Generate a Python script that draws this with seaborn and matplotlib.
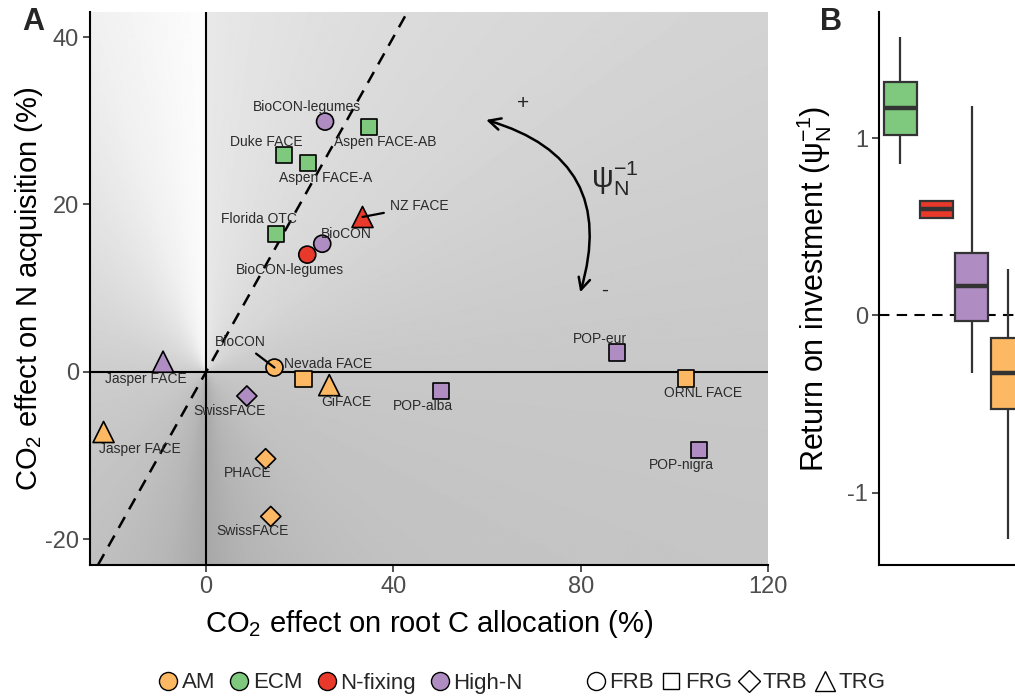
import numpy as np
import pandas as pd
import matplotlib
matplotlib.use("Agg")
import matplotlib.pyplot as plt
import seaborn as sns
from matplotlib.lines import Line2D

# ---------------- data ----------------
sites = ["BioCON-legumes", "Aspen FACE-AB", "Duke FACE", "Aspen FACE-A", "NZ FACE",
         "Florida OTC", "BioCON", "BioCON-legumes", "Jasper FACE", "BioCON",
         "Nevada FACE", "GiFACE", "POP-alba", "SwissFACE", "Jasper FACE",
         "PHACE", "SwissFACE", "POP-eur", "ORNL FACE", "POP-nigra"]
myco = ["High-N", "ECM", "ECM", "ECM", "N-fixing",
        "ECM", "High-N", "N-fixing", "High-N", "AM",
        "AM", "AM", "High-N", "High-N", "AM",
        "AM", "AM", "High-N", "AM", "High-N"]
ptype = ["FRB", "FRG", "FRG", "FRG", "TRG",
         "FRG", "FRB", "FRB", "TRG", "FRB",
         "FRG", "TRG", "FRG", "TRB", "TRG",
         "TRB", "TRB", "FRG", "FRG", "FRG"]
root_c = [25.4, 34.7, 16.6, 21.8, 33.4,
          15.0, 24.8, 21.6, -9.2, 14.6,
          20.8, 26.3, 50.1, 8.7, -21.9,
          12.7, 13.8, 87.8, 102.5, 105.3]
n_acq = [29.9, 29.3, 25.9, 24.9, 18.5,
         16.5, 15.3, 14.0, 1.2, 0.5,
         -0.9, -1.6, -2.3, -2.9, -7.2,
         -10.4, -17.3, 2.3, -0.8, -9.4]

# label anchor positions (data units)
label_x = [21.5, 38.2, 12.8, 25.5, 45.5,
           11.3, 29.9, 17.9, -12.8, 7.3,
           26.1, 30.0, 46.3, 4.9, -14.2,
           8.9, 10.0, 84.1, 106.2, 101.6]
label_y = [31.6, 27.5, 27.5, 23.1, 19.8,
           18.2, 16.5, 12.2, -0.9, 3.6,
           0.9, -3.6, -4.1, -4.7, -9.2,
           -12.1, -19.0, 3.9, -2.5, -11.2]
leader = [False, False, False, False, True,
          False, False, False, False, True,
          False, False, False, False, False,
          False, False, False, False, False]

# panel B: five-number summaries (min, q1, median, q3, max)
roi_groups = ["ECM", "N-fixing", "High-N", "AM"]
roi_ecm = [0.852, 1.016, 1.169, 1.317, 1.569]
roi_nfix = [0.547, 0.547, 0.597, 0.647, 0.647]
roi_highn = [-0.327, -0.034, 0.165, 0.354, 1.181]
roi_am = [-1.263, -0.530, -0.325, -0.126, 0.260]

myco_order = ["AM", "ECM", "N-fixing", "High-N"]
type_order = ["FRB", "FRG", "TRB", "TRG"]

# ---------------- style ----------------
palette = {"AM": "#FDB863", "ECM": "#7FC97F", "N-fixing": "#E8392B", "High-N": "#AF8DC3"}
markers = {"FRB": "o", "FRG": "s", "TRB": "D", "TRG": "^"}
msizes = {"FRB": 150, "FRG": 135, "TRB": 105, "TRG": 230}

sns.set_theme(style="white")
plt.rcParams["font.family"] = ["Liberation Sans", "DejaVu Sans"]
plt.rcParams["axes.unicode_minus"] = False
plt.rcParams["mathtext.fontset"] = "custom"
plt.rcParams["mathtext.rm"] = "Liberation Sans"
plt.rcParams["mathtext.it"] = "Liberation Sans:italic"
plt.rcParams["mathtext.bf"] = "Liberation Sans:bold"

W, H = 1015, 698
fig = plt.figure(figsize=(W / 100, H / 100), dpi=100)

def px_axes(l, t, r, b):
    return [l / W, 1 - b / H, (r - l) / W, (b - t) / H]

axA = fig.add_axes(px_axes(90, 12, 768, 565))
xlim = (-24.8, 120)
ylim = (-23.1, 43.0)

# angular grey background
gx = np.linspace(xlim[0], xlim[1], 700)
gy = np.linspace(ylim[0], ylim[1], 600)
GX, GY = np.meshgrid(gx, gy)
theta = np.degrees(np.arctan2(GY, GX))
phi = (theta - 90) % 360
stops_phi = [0, 30, 90, 133, 160, 180, 200, 240, 270, 296, 340, 360]
stops_gray = [253, 240, 205, 192, 182, 168, 180, 193, 200, 214, 226, 232]
gray = np.interp(phi, stops_phi, stops_gray) / 255.0
axA.imshow(gray, cmap="gray", vmin=0, vmax=1, extent=[xlim[0], xlim[1], ylim[0], ylim[1]],
           origin="lower", aspect="auto", interpolation="bilinear", zorder=0)

axA.axhline(0, color="black", lw=1.5, zorder=1)
axA.axvline(0, color="black", lw=1.5, zorder=1)
axA.axline((0, 0), slope=1, color="black", lw=1.8, ls=(0, (5, 3.5)), zorder=1)

df = pd.DataFrame({"site": sites, "myco": myco, "type": ptype, "x": root_c, "y": n_acq})
sns.scatterplot(data=df, x="x", y="y", hue="myco", style="type", size="type",
                palette=palette, markers=markers, sizes=msizes,
                hue_order=myco_order, style_order=type_order, size_order=type_order,
                edgecolor="black", linewidth=1.2, legend=False, ax=axA, zorder=3)

for i, s in enumerate(sites):
    if leader[i]:
        axA.annotate(s, xy=(root_c[i], n_acq[i]), xytext=(label_x[i], label_y[i]),
                     ha="center", va="center", fontsize=10, color="#2b2b2b", zorder=4,
                     arrowprops=dict(arrowstyle="-", color="black", lw=1.6, shrinkA=2, shrinkB=0))
    else:
        axA.text(label_x[i], label_y[i], s, ha="center", va="center", fontsize=10,
                 color="#2b2b2b", zorder=4)

# curved double arrow
axA.annotate("", xy=(79.9, 9.5), xytext=(59.8, 30.1),
             arrowprops=dict(arrowstyle="<->,head_length=0.7,head_width=0.35", color="black",
                             lw=1.8, connectionstyle="arc3,rad=-0.5", shrinkA=0, shrinkB=0))
axA.text(67.7, 32.1, "+", fontsize=15, ha="center", va="center")
axA.text(85.2, 9.7, "-", fontsize=15, ha="center", va="center")
axA.text(87.3, 23.1, r"$\mathrm{ψ}_\mathrm{N}^{-1}$", fontsize=22, ha="center", va="center")

axA.set_xlim(*xlim)
axA.set_ylim(*ylim)
axA.set_xticks([0, 40, 80, 120])
axA.set_yticks([-20, 0, 20, 40])
axA.tick_params(axis="both", labelsize=17, labelcolor="#4D4D4D", colors="#333333",
                length=5, width=1.2, direction="out", left=True, bottom=True, pad=3)
for side in ["top", "right"]:
    axA.spines[side].set_visible(False)
for side in ["left", "bottom"]:
    axA.spines[side].set_color("black")
    axA.spines[side].set_linewidth(1.5)
axA.set_xlabel(r"CO$_2$ effect on root C allocation (%)", fontsize=21, color="black")
axA.set_ylabel(r"CO$_2$ effect on N acquisition (%)", fontsize=21, color="black")
axA.xaxis.set_label_coords(0.5, -0.078)
axA.yaxis.set_label_coords(-0.066, 0.5)
fig.text(33 / W, 1 - 22 / H, "A", fontsize=22, fontweight="bold", ha="center", va="center")

# ---------------- panel B ----------------
axB = fig.add_axes(px_axes(879, 12, 1029, 565))
bdf = pd.DataFrame({
    "group": np.repeat(roi_groups, 5),
    "roi": np.concatenate([roi_ecm, roi_nfix, roi_highn, roi_am]),
})
sns.boxplot(data=bdf, x="group", y="roi", hue="group", order=roi_groups, hue_order=roi_groups,
            palette=palette, saturation=1, width=0.92, whis=(0, 100), showcaps=False, fliersize=0,
            linewidth=1.6, linecolor="#333333", medianprops=dict(linewidth=3.2, color="#333333"),
            legend=False, ax=axB, zorder=2)
axB.axhline(0, color="black", lw=1.5, ls=(0, (5, 3.5)), zorder=1)
axB.set_xlim(-0.6, 3.6)
axB.set_ylim(-1.409, 1.711)
axB.set_yticks([-1, 0, 1])
axB.set_xticks([])
axB.set_xlabel("")
axB.tick_params(axis="y", labelsize=17, labelcolor="#4D4D4D", colors="#333333",
                length=5, width=1.2, direction="out", left=True, pad=3)
for side in ["top", "right"]:
    axB.spines[side].set_visible(False)
for side in ["left", "bottom"]:
    axB.spines[side].set_color("black")
    axB.spines[side].set_linewidth(1.5)
axB.set_facecolor("white")
axB.set_ylabel(r"Return on investment ($\mathrm{ψ}_\mathrm{N}^{-1}$)", fontsize=22, color="black")
axB.yaxis.set_label_coords(-0.30, 0.5)
fig.text(831 / W, 1 - 22 / H, "B", fontsize=22, fontweight="bold", ha="center", va="center")

# ---------------- legends ----------------
narrow = ["Liberation Sans Narrow", "Liberation Sans", "DejaVu Sans"]
h1 = [Line2D([], [], ls="", marker="o", markersize=13, markerfacecolor=palette[m],
             markeredgecolor="black", markeredgewidth=1.0) for m in myco_order]
h2 = [Line2D([], [], ls="", marker=markers[t], markersize={"FRB": 13, "FRG": 12, "TRB": 11, "TRG": 15}[t],
             markerfacecolor="none", markeredgecolor="black", markeredgewidth=1.0) for t in type_order]
leg1 = fig.legend(h1, myco_order, loc="center", bbox_to_anchor=(340 / W, 1 - 683 / H), ncol=4,
                  frameon=False, handletextpad=0.1, columnspacing=0.6, handlelength=1.0,
                  prop={"family": narrow, "size": 16})
leg2 = fig.legend(h2, type_order, loc="center", bbox_to_anchor=(735 / W, 1 - 683 / H), ncol=4,
                  frameon=False, handletextpad=0.1, columnspacing=0.3, handlelength=1.0,
                  prop={"family": narrow, "size": 16})

fig.savefig("out.png", dpi=100, facecolor="white")
